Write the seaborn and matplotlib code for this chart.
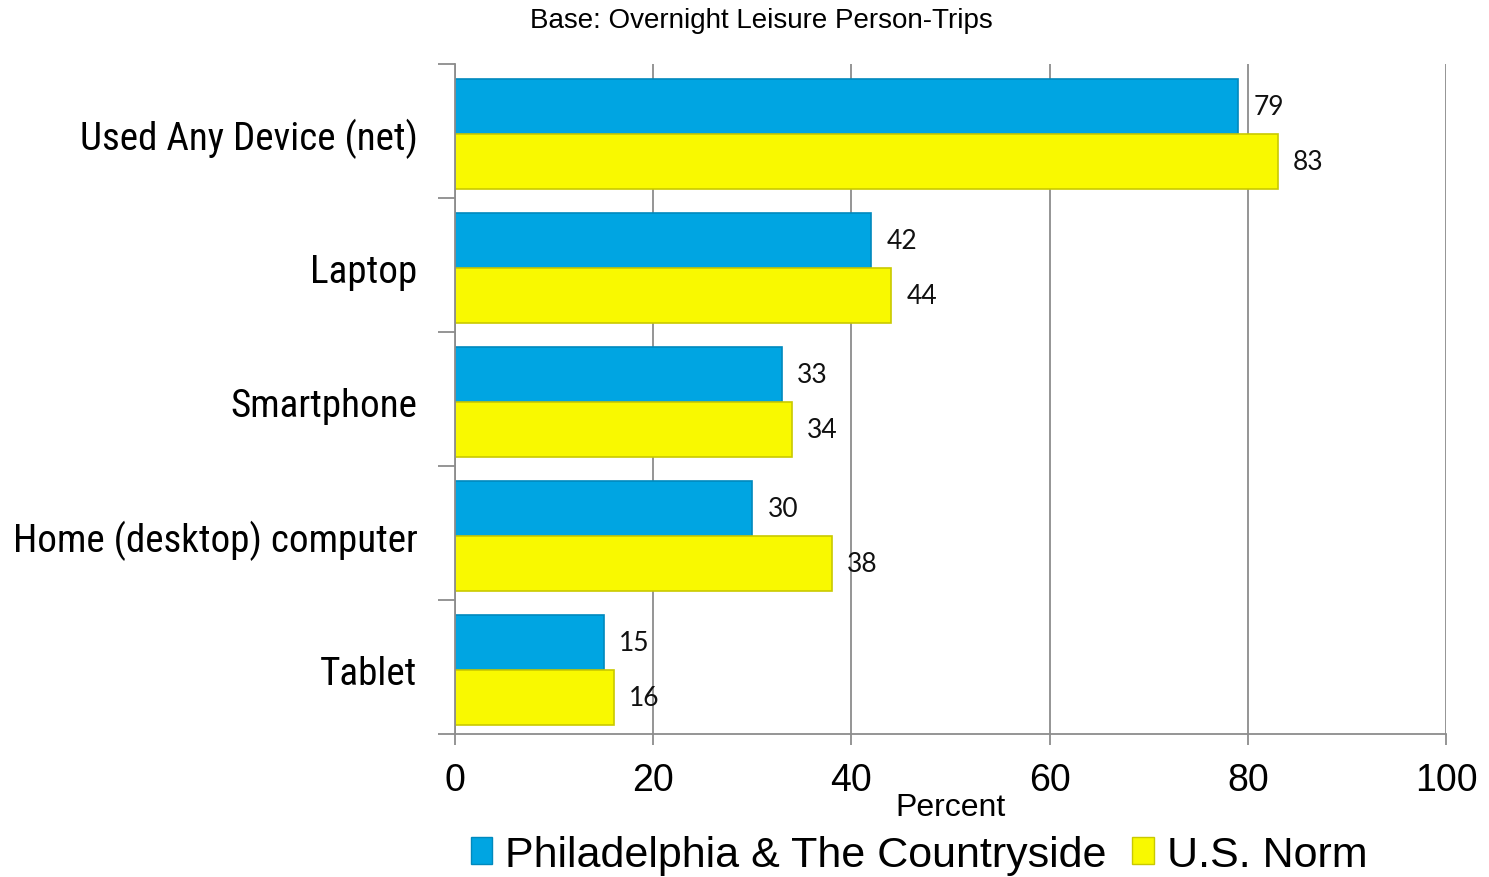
import numpy as np
import pandas as pd
import matplotlib
matplotlib.use("Agg")
import matplotlib.pyplot as plt
import seaborn as sns
from matplotlib.patches import Patch

categories = ["Used Any Device (net)", "Laptop", "Smartphone",
              "Home (desktop) computer", "Tablet"]
philly = [79, 42, 33, 30, 15]
us_norm = [83, 44, 34, 38, 16]
series = ["Philadelphia & The Countryside", "U.S. Norm"]
colors = ["#00A5E2", "#F9F900"]
edges = ["#0089BD", "#C9C900"]

df = pd.DataFrame({
    "category": categories * 2,
    "value": philly + us_norm,
    "series": [series[0]] * len(categories) + [series[1]] * len(categories),
})

sns.set_style("white")
plt.rcParams["font.family"] = ["Liberation Sans", "DejaVu Sans"]
plt.rcParams["text.color"] = "black"
plt.rcParams["xtick.labelcolor"] = "black"
plt.rcParams["ytick.labelcolor"] = "black"
plt.rcParams["axes.labelcolor"] = "black"
narrow = ["Liberation Sans Narrow", "Roboto Condensed", "DejaVu Sans Condensed",
          "Liberation Sans"]

fig = plt.figure(figsize=(14.89, 8.78), dpi=100)
ax = fig.add_axes([455 / 1489, 1 - 735 / 878, 991 / 1489, 670 / 878])

sns.barplot(data=df, y="category", x="value", hue="series", orient="h",
            palette=colors, width=0.82, ax=ax, legend=False, saturation=1)

for i, bars in enumerate(ax.containers):
    for b in bars:
        b.set_edgecolor(edges[i])
        b.set_linewidth(1.2)
    ax.bar_label(bars, labels=[f"{v:g}" for v in bars.datavalues], padding=11,
                 fontsize=19, family=["Lato", "DejaVu Sans"], color="#111111")

ax.set_xlim(0, 100)
ax.set_ylim(4.48, -0.52)
ax.set_xticks(np.arange(0, 101, 20))
ax.xaxis.grid(True, color="#8c8c8c", linewidth=1.3)
ax.set_axisbelow(True)
ax.tick_params(axis="x", labelsize=27, length=8, color="#8c8c8c", width=1.3, pad=12,
               direction="out", bottom=True)
ax.set_yticks(range(len(categories)))
ax.set_yticklabels(categories, fontsize=28.2, family=narrow)
ax.tick_params(axis="y", which="major", length=0, pad=27)
ax.set_yticks(np.arange(-0.52, len(categories), 1), minor=True)
ax.tick_params(axis="y", which="minor", length=12, color="#8c8c8c", width=1.3, left=True)

ax.set_xlabel("Percent", fontsize=23, labelpad=-4)
ax.set_ylabel("")
for s in ["top", "right"]:
    ax.spines[s].set_visible(False)
for s in ["left", "bottom"]:
    ax.spines[s].set_color("#8c8c8c")
    ax.spines[s].set_linewidth(1.3)

fig.text(761 / 1489, 1 - 21 / 878, "Base: Overnight Leisure Person-Trips",
         ha="center", va="center", fontsize=20)

handles = [Patch(facecolor=colors[i], edgecolor=edges[i], label=series[i]) for i in range(2)]
fig.legend(handles=handles, loc="center", bbox_to_anchor=(919 / 1489, 1 - 856 / 878),
           ncol=2, frameon=False, fontsize=31, handlelength=0.5, handleheight=0.6,
           handletextpad=0.3, columnspacing=0.6, borderpad=0)

fig.savefig("out.png", dpi=100)
